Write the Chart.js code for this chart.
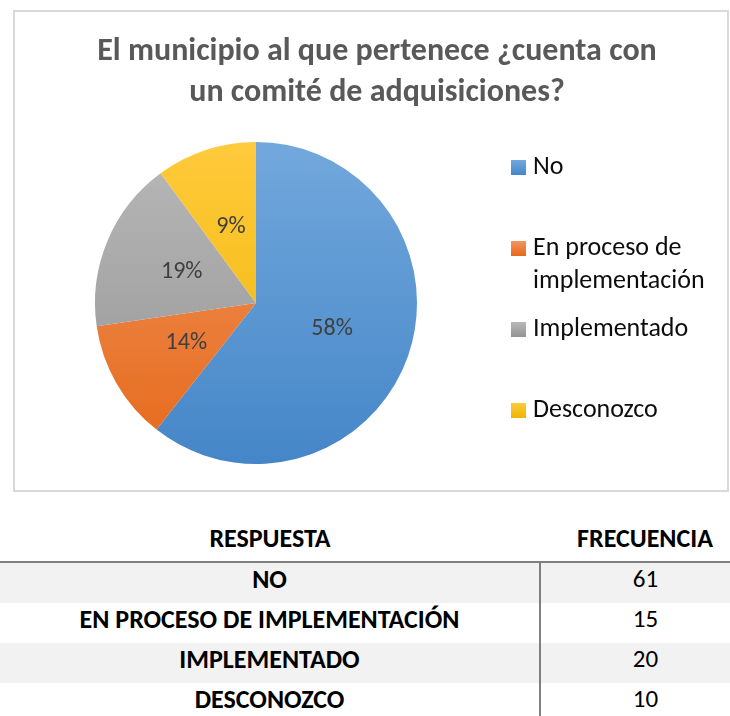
<!DOCTYPE html>
<html>
<head>
<meta charset="utf-8">
<script src="https://cdn.jsdelivr.net/npm/chart.js@4/dist/chart.umd.min.js"></script>
<style>
  body { margin: 0; background: #fff; width: 730px; height: 716px; overflow: hidden; position: relative; font-family: Carlito, Lato, sans-serif; }
  .chartBox { position: absolute; left: 13px; top: 10px; width: 716px; height: 482px; border: 2px solid #d9d9d9; box-sizing: border-box; }
  .tabla { position: absolute; left: 0; top: 520px; width: 750px; border-collapse: collapse; }
  .tabla th { height: 37px; line-height: 37px; padding: 0 0 4px 0; font-size: 26px; font-weight: bold; color: #000; border-bottom: 2px solid #808080; }
  .tabla td { height: 32px; line-height: 30px; padding: 0 0 8px 0; font-size: 25px; text-align: center; color: #000; }
  .tabla td.resp { font-weight: bold; font-size: 26px; width: 539px; border-right: 2px solid #808080; }
  .tabla tr.gris td { background: #f2f2f2; }
</style>
</head>
<body>
<div class="chartBox"><canvas id="pieChart"></canvas></div>
<table class="tabla" id="tabla">
  <thead><tr><th>RESPUESTA</th><th>FRECUENCIA</th></tr></thead>
  <tbody></tbody>
</table>
<script>
const titulo = ['El municipio al que pertenece ¿cuenta con', 'un comité de adquisiciones?'];
const categorias = ['No', 'En proceso de implementación', 'Implementado', 'Desconozco'];
const frecuencias = [61, 15, 20, 10];
// etiquetas tal como salen en el grafico
const porcentajes = [58, 14, 19, 9];
// tamaño de cada rebanada (no coincide exacto con la tabla)
const rebanadas = [60.6, 12.1, 17.2, 10.1];

// colores tipo Excel (arriba / abajo del degradado)
const coloresArriba = ['#72a8dc', '#f3955f', '#b8b8b8', '#ffca3c'];
const coloresAbajo = ['#4586c8', '#e4691a', '#939393', '#eeb500'];

const fuente = 'Carlito, Lato, sans-serif';

// tabla de abajo
const tbody = document.querySelector('#tabla tbody');
categorias.forEach((cat, i) => {
  const tr = document.createElement('tr');
  if (i % 2 == 0) tr.className = 'gris';
  tr.innerHTML = '<td class="resp">' + cat.toUpperCase() + '</td><td>' + frecuencias[i] + '</td>';
  tbody.appendChild(tr);
});

function wrapText(ctx, text, maxW) {
  const words = text.split(' ');
  const lines = [];
  let line = '';
  words.forEach(w => {
    const test = line ? line + ' ' + w : w;
    if (ctx.measureText(test).width > maxW && line) {
      lines.push(line);
      line = w;
    } else {
      line = test;
    }
  });
  lines.push(line);
  return lines;
}

const extras = {
  id: 'extras',
  afterDatasetsDraw(chart) {
    const ctx = chart.ctx;
    const meta = chart.getDatasetMeta(0);
    ctx.save();

    // porcentajes
    ctx.font = '24px ' + fuente;
    ctx.fillStyle = '#404040';
    ctx.textAlign = 'center';
    ctx.textBaseline = 'middle';
    meta.data.forEach((arc, i) => {
      const p = arc.tooltipPosition();
      ctx.fillText(porcentajes[i] + '%', p.x, p.y);
    });

    // titulo
    ctx.font = 'bold 32px ' + fuente;
    ctx.fillStyle = '#595959';
    titulo.forEach((t, i) => ctx.fillText(t, 362, 40 + i * 41));

    // leyenda
    ctx.font = '26px ' + fuente;
    ctx.textAlign = 'left';
    categorias.forEach((cat, i) => {
      const y = 155 + i * 81;
      const grad = ctx.createLinearGradient(0, y - 7, 0, y + 8);
      grad.addColorStop(0, coloresArriba[i]);
      grad.addColorStop(1, coloresAbajo[i]);
      ctx.fillStyle = grad;
      ctx.fillRect(496, y - 7, 15, 15);
      ctx.fillStyle = '#0d0d0d';
      wrapText(ctx, cat, 192).forEach((l, j) => ctx.fillText(l, 518, y + j * 33));
    });
    ctx.restore();
  }
};

function degradado(context) {
  const chart = context.chart;
  const area = chart.chartArea;
  if (!area) return coloresArriba[context.dataIndex];
  const g = chart.ctx.createLinearGradient(0, area.top, 0, area.bottom);
  g.addColorStop(0, coloresArriba[context.dataIndex]);
  g.addColorStop(1, coloresAbajo[context.dataIndex]);
  return g;
}

const pieChart = new Chart(document.getElementById('pieChart'), {
  type: 'pie',
  data: {
    labels: categorias,
    datasets: [{
      data: rebanadas,
      backgroundColor: degradado,
      borderWidth: 0
    }]
  },
  options: {
    responsive: true,
    maintainAspectRatio: false,
    animation: false,
    layout: { padding: { left: 80, right: 310, top: 130, bottom: 26 } },
    plugins: {
      legend: { display: false },
      title: { display: false },
      tooltip: { enabled: false }
    }
  },
  plugins: [extras]
});
</script>
</body>
</html>
